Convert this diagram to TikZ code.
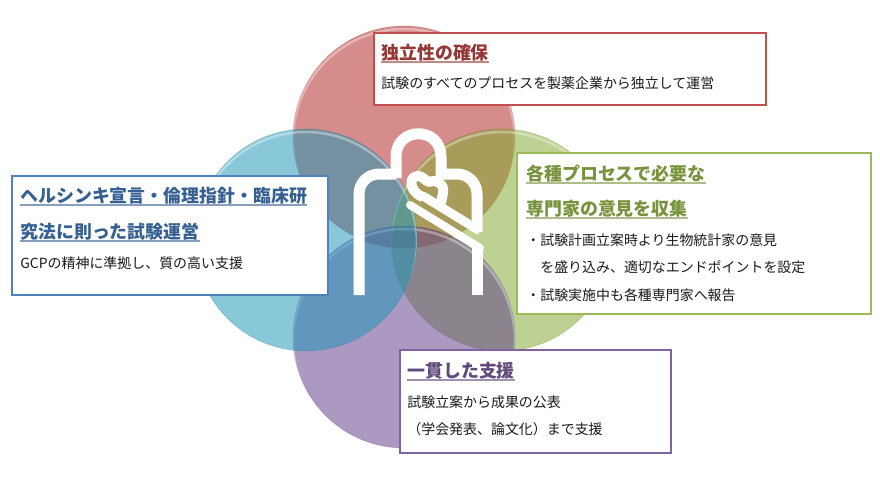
\documentclass[tikz,border=0pt]{standalone}
\usepackage{fontspec}
\setmainfont{Noto Sans CJK JP}
\definecolor{petalred}{RGB}{176,36,32}
\definecolor{petalcyan}{RGB}{30,151,184}
\definecolor{petalgreen}{RGB}{130,170,47}
\definecolor{petalpurple}{RGB}{95,61,138}
\definecolor{boxred}{HTML}{C0504D}
\definecolor{boxblue}{HTML}{4F81BD}
\definecolor{boxgreen}{HTML}{9BBB59}
\definecolor{boxpurple}{HTML}{8064A2}
\definecolor{headred}{HTML}{953735}
\definecolor{headblue}{HTML}{376092}
\definecolor{headgreen}{HTML}{77933C}
\definecolor{headpurple}{HTML}{604A7B}
\definecolor{bodytext}{HTML}{1A1A1A}
\tikzset{
  petal/.style={fill=#1, fill opacity=0.52},
  petalrim/.style={draw=#1!70!black, draw opacity=0.18, line width=0.02cm},
  gloss/.style={draw=white, draw opacity=0.35, line width=0.05cm},
  panel/.style={draw=#1, fill=white, line width=0.04cm},
  heading/.style={anchor=base west, inner sep=0pt, text=#1, font=\fontsize{10.2}{12}\selectfont\bfseries},
  bodyline/.style={anchor=base west, inner sep=0pt, text=bodytext, font=\fontsize{7.94}{9}\selectfont},
  headrule/.style={draw=#1, draw opacity=0.6, line width=0.03cm},
  figure/.style={draw=white, line width=0.22cm, line join=round},
}
\newcommand{\petalat}[3]{%
  \fill[petal=#3] (#1,#2) circle (2.22cm);
  \draw[petalrim=#3] (#1,#2) circle (2.22cm);
  \begin{scope}
    \clip (#1,#2) circle (2.22cm);
    \draw[gloss] (#1,#2+3) circle (2.22cm);
  \end{scope}
}
\newcommand{\headline}[2]{%
  \draw[headrule=#1] ([yshift=-0.06cm]#2.base west) -- ([yshift=-0.06cm]#2.base east);
}
\begin{document}
\begin{tikzpicture}[x=0.02cm, y=-0.02cm]
  \useasboundingbox (0,0) rectangle (880,480);
  \fill[white] (0,0) rectangle (880,480);
  % four overlapping discs
  \petalat{404}{137}{petalred}
  \petalat{502}{240}{petalgreen}
  \petalat{404}{337}{petalpurple}
  \petalat{306}{240}{petalcyan}
  % white figure in the middle
  \draw[figure, rounded corners=0.4cm] (359,295) -- (359,174) -- (396,174);
  \draw[figure] (396,178) -- (396,157) .. controls (396,126) and (441,126) .. (441,157) -- (441,178);
  \draw[figure, rounded corners=0.4cm] (436,174) -- (477,174) -- (477,232);
  \draw[figure, line width=0.18cm] (423,196) -- (480,231);
  \draw[figure, line width=0.2cm] (423,197) .. controls (409,192) and (408,176) .. (418,176)
    .. controls (423,176) and (425,181) .. (429,182) .. controls (436,179) and (445,184) .. (443,193) -- (441,203);
  \draw[figure, line width=0.16cm, line cap=round] (410,205) -- (480,248);
  \draw[figure] (477,246) -- (477,295);
  % top panel
  \draw[panel=boxred] (374,33) rectangle (766,105);
  \node[heading=headred] (dokuritsu) at (381,59) {独立性の確保};
  \headline{headred}{dokuritsu}
  \node[bodyline] (dokuritsutext) at (381,89) {試験のすべてのプロセスを製薬企業から独立して運営};
  % left panel
  \draw[panel=boxblue] (12,176) rectangle (328,295);
  \node[heading=headblue] (helsinki) at (20,202) {ヘルシンキ宣言・倫理指針・臨床研};
  \node[heading=headblue] (helsinkitwo) at (20,238) {究法に則った試験運営};
  \headline{headblue}{helsinki}
  \headline{headblue}{helsinkitwo}
  \node[bodyline] (helsinkitext) at (20,268) {GCPの精神に準拠し、質の高い支援};
  % right panel
  \draw[panel=boxgreen] (517,153) rectangle (871,314);
  \node[heading=headgreen] (senmon) at (526,180) {各種プロセスで必要な};
  \node[heading=headgreen] (senmontwo) at (526,215) {専門家の意見を収集};
  \headline{headgreen}{senmon}
  \headline{headgreen}{senmontwo}
  \node[bodyline] (senmontext) at (526,245) {・試験計画立案時より生物統計家の意見};
  \node[bodyline] (senmontexttwo) at (526,272) {　を盛り込み、適切なエンドポイントを設定};
  \node[bodyline] (senmontextthree) at (526,300) {・試験実施中も各種専門家へ報告};
  % bottom panel
  \draw[panel=boxpurple] (400,350) rectangle (671,453);
  \node[heading=headpurple] (ikkan) at (407,377) {一貫した支援};
  \headline{headpurple}{ikkan}
  \node[bodyline] (ikkantext) at (407,407) {試験立案から成果の公表};
  \node[bodyline] (ikkantexttwo) at (407,434) {（学会発表、論文化）まで支援};
\end{tikzpicture}
\end{document}
